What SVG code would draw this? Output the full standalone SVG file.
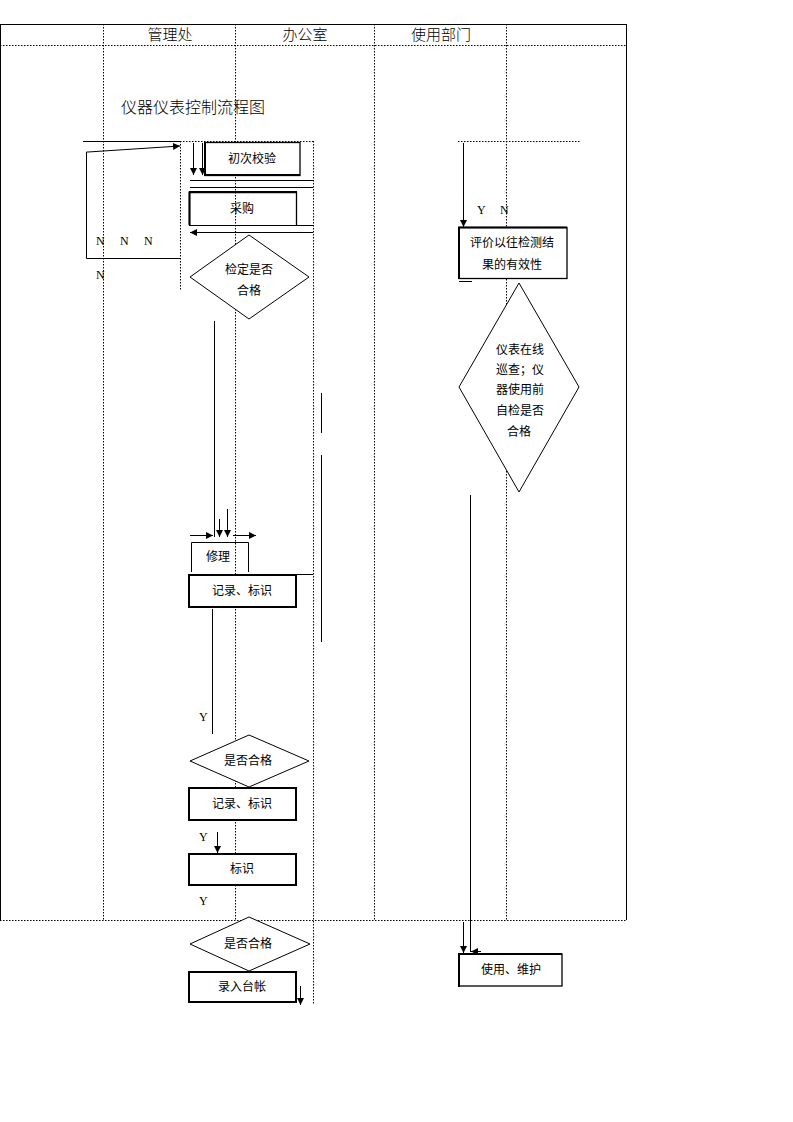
<svg xmlns="http://www.w3.org/2000/svg" width="793" height="1122" viewBox="0 0 793 1122">
<style>
.dot{stroke:#000;stroke-width:1;stroke-dasharray:1.5,1.5;fill:none}
.ln{stroke:#000;stroke-width:1;fill:none}
.bx{stroke:#000;stroke-width:1.3;fill:#fff}
.bxt{stroke:#000;stroke-width:2;fill:#fff}
.dm{stroke:#000;stroke-width:1;fill:#fff}
.t{font-family:"Noto Sans CJK SC","Liberation Sans",sans-serif;font-size:12px;fill:#000;text-anchor:middle}
.h{font-family:"Noto Sans CJK SC","Liberation Serif",serif;font-size:15px;fill:#000;text-anchor:middle;font-weight:300}
.l{font-family:"Liberation Serif",serif;font-size:12px;fill:#000}
</style>
<defs>
<marker id="ah" markerWidth="8" markerHeight="8" refX="7" refY="4" orient="auto" markerUnits="userSpaceOnUse">
<path d="M0,0.5 L7,4 L0,7.5 Z" fill="#000"/>
</marker>
</defs>
<rect width="793" height="1122" fill="#fff"/>
<g id="frame">
<line class="ln" x1="0" y1="24.5" x2="627" y2="24.5"/>
<line class="ln" x1="0.5" y1="24" x2="0.5" y2="920"/>
<line class="ln" x1="626.5" y1="24" x2="626.5" y2="920"/>
<line class="dot" x1="0" y1="45.5" x2="627" y2="45.5"/>
<line class="dot" x1="0" y1="920.5" x2="627" y2="920.5"/>
<line class="dot" x1="103.5" y1="24" x2="103.5" y2="920"/>
<line class="dot" x1="235.5" y1="24" x2="235.5" y2="920"/>
<line class="dot" x1="374.5" y1="24" x2="374.5" y2="920"/>
<line class="dot" x1="506.5" y1="24" x2="506.5" y2="920"/>
<text class="h" x="170" y="40">管理处</text>
<text class="h" x="305" y="40">办公室</text>
<text class="h" x="441" y="40">使用部门</text>
<text class="h" x="121" y="113" style="text-anchor:start;font-size:16px">仪器仪表控制流程图</text>
</g>
<g id="connectors">
<line class="ln" x1="83" y1="141.5" x2="180" y2="141.5"/>
<line class="dot" x1="180" y1="141.5" x2="313" y2="141.5"/>
<line class="dot" x1="180.5" y1="141" x2="180.5" y2="291"/>
<line class="dot" x1="313.5" y1="141" x2="313.5" y2="1005"/>
<polyline class="ln" points="180,258.5 86.5,258.5 86.5,152 88,152"/>
<line class="ln" x1="88" y1="152" x2="180" y2="146" marker-end="url(#ah)"/>
<line class="ln" x1="193.5" y1="143" x2="193.5" y2="175" marker-end="url(#ah)"/>
<line class="ln" x1="202.5" y1="143" x2="202.5" y2="175" marker-end="url(#ah)"/>
<line class="ln" x1="190" y1="180.5" x2="313" y2="180.5"/>
<line class="ln" x1="190" y1="187.5" x2="313" y2="187.5"/>
<line class="ln" x1="189" y1="225.5" x2="313" y2="225.5"/>
<line class="ln" x1="313" y1="232.5" x2="190" y2="232.5" marker-end="url(#ah)"/>
<line class="ln" x1="214.5" y1="321" x2="214.5" y2="537"/>
<line class="ln" x1="219.5" y1="519" x2="219.5" y2="537" marker-end="url(#ah)"/>
<line class="ln" x1="227.5" y1="509" x2="227.5" y2="537" marker-end="url(#ah)"/>
<line class="ln" x1="190" y1="535.5" x2="213" y2="535.5" marker-end="url(#ah)"/>
<line class="ln" x1="233" y1="535.5" x2="256" y2="535.5" marker-end="url(#ah)"/>
<line class="ln" x1="248" y1="574.5" x2="313" y2="574.5"/>
<line class="ln" x1="321.5" y1="393" x2="321.5" y2="433"/>
<line class="ln" x1="321.5" y1="455" x2="321.5" y2="642"/>
<line class="ln" x1="212.5" y1="609" x2="212.5" y2="734"/>
<line class="ln" x1="217.5" y1="832" x2="217.5" y2="853" marker-end="url(#ah)"/>
<line class="ln" x1="300.5" y1="986" x2="300.5" y2="1005" marker-end="url(#ah)"/>
<line class="dot" x1="458" y1="141.5" x2="581" y2="141.5"/>
<line class="ln" x1="463.5" y1="143" x2="463.5" y2="227" marker-end="url(#ah)"/>
<line class="ln" x1="459" y1="281.5" x2="472" y2="281.5"/>
<line class="ln" x1="470.5" y1="495" x2="470.5" y2="952"/>
<line class="ln" x1="481" y1="951.5" x2="471" y2="951.5" marker-end="url(#ah)"/>
<line class="ln" x1="463.5" y1="922" x2="463.5" y2="953" marker-end="url(#ah)"/>
<text class="l" x="96" y="245">N</text>
<text class="l" x="120" y="245">N</text>
<text class="l" x="144" y="245">N</text>
<text class="l" x="96" y="279">N</text>
<text class="l" x="199" y="721">Y</text>
<text class="l" x="199" y="841">Y</text>
<text class="l" x="199" y="905">Y</text>
<text class="l" x="477" y="214">Y</text>
<text class="l" x="500" y="214">N</text>
</g>
<g id="n-chuci">
<rect class="bx" x="205" y="142.5" width="95" height="33"/>
<line class="ln" x1="205" y1="142" x2="205" y2="176" style="stroke-width:2"/>
<line class="ln" x1="205" y1="175" x2="300" y2="175" style="stroke-width:2"/>
<text class="t" x="252" y="163">初次校验</text>
</g>
<g id="n-caigou">
<polyline class="ln" points="189.5,225 189.5,192.5 296.5,192.5 296.5,225" style="stroke-width:1.3"/>
<line class="ln" x1="189.5" y1="191.5" x2="189.5" y2="225" style="stroke-width:2"/>
<line class="ln" x1="189" y1="192" x2="297" y2="192" style="stroke-width:2"/>
<text class="t" x="242" y="213">采购</text>
</g>
<g id="n-jianding">
<polygon class="dm" points="249,235 309,277 249,319 190,277"/>
<text class="t" x="249" y="274">检定是否</text>
<text class="t" x="249" y="295">合格</text>
</g>
<g id="n-xiuli">
<polyline class="ln" points="191.5,572 191.5,542.5 248.5,542.5 248.5,572"/>
<text class="t" x="218" y="561">修理</text>
</g>
<g id="n-jilu1">
<rect class="bxt" x="189" y="575" width="107" height="32"/>
<text class="t" x="242" y="595">记录、标识</text>
</g>
<g id="n-shifou1">
<polygon class="dm" points="249,735 309,761 249,787 190,761"/>
<text class="t" x="248" y="765">是否合格</text>
</g>
<g id="n-jilu2">
<rect class="bxt" x="189" y="788" width="107" height="32"/>
<text class="t" x="242" y="808">记录、标识</text>
</g>
<g id="n-biaoshi">
<rect class="bxt" x="189" y="854" width="107" height="31"/>
<text class="t" x="242" y="873">标识</text>
</g>
<g id="n-shifou2">
<polygon class="dm" points="249,917 310,944 249,971 190,944"/>
<text class="t" x="248" y="948">是否合格</text>
</g>
<g id="n-luru">
<rect class="bxt" x="189" y="972" width="107" height="30"/>
<text class="t" x="242" y="991">录入台帐</text>
</g>
<g id="n-pingjia">
<rect class="bx" x="459" y="227.5" width="108" height="51"/>
<line class="ln" x1="458" y1="227.5" x2="567" y2="227.5" style="stroke-width:2"/>
<line class="ln" x1="459" y1="227" x2="459" y2="279" style="stroke-width:2"/>
<text class="t" x="512" y="247">评价以往检测结</text>
<text class="t" x="512" y="269">果的有效性</text>
</g>
<g id="n-yibiao">
<polygon class="dm" points="519,283 579,387 519,492 459,387"/>
<text class="t" x="520" y="354">仪表在线</text>
<text class="t" x="520" y="374">巡查；仪</text>
<text class="t" x="520" y="394">器使用前</text>
<text class="t" x="520" y="415">自检是否</text>
<text class="t" x="519" y="436">合格</text>
</g>
<g id="n-shiyong">
<rect class="bx" x="459" y="954" width="103" height="32"/>
<line class="ln" x1="459" y1="953" x2="459" y2="987" style="stroke-width:2"/>
<line class="ln" x1="458" y1="954" x2="562" y2="954" style="stroke-width:2"/>
<text class="t" x="511" y="974">使用、维护</text>
</g>
</svg>
